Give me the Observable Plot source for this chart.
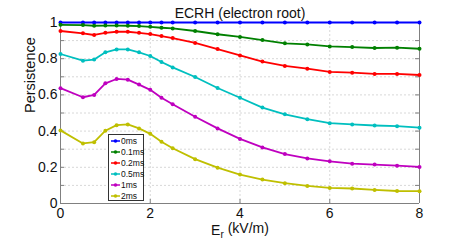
<!DOCTYPE html>
<html><head><meta charset="utf-8">
<script src="https://cdn.jsdelivr.net/npm/d3@7"></script>
<script src="https://cdn.jsdelivr.net/npm/@observablehq/plot@0.6"></script>
<style>
body{margin:0;background:#fff;font-family:"Liberation Sans",Arial,sans-serif}
#wrap{position:relative;width:463px;height:242px}
#legend{position:absolute;left:108px;top:134px;width:34px;height:65px;border:1px solid #333;background:#fff}
#legend .row{position:absolute;left:0;height:10px;display:flex;align-items:center;font-size:8.5px;color:#111;line-height:10px}
</style>
</head><body><div id="wrap"><div id="chart"></div><div id="legend"></div></div>
<script>
const er = [0, 0.5, 0.75, 1, 1.25, 1.5, 1.75, 2, 2.25, 2.5, 3, 3.5, 4, 4.5, 5, 5.5, 6, 6.5, 7, 7.5, 8];
const seriesNames = ["0ms", "0.1ms", "0.2ms", "0.5ms", "1ms", "2ms"];
const seriesColors = ["#0000ff", "#008000", "#ff0000", "#00bfbf", "#bf00bf", "#bfbf00"];
const p0ms  = [1, 1, 1, 1, 1, 1, 1, 1, 1, 1, 1, 1, 1, 1, 1, 1, 1, 1, 1, 1, 1];
const p01ms = [0.987, 0.986, 0.982, 0.983, 0.983, 0.982, 0.980, 0.976, 0.971, 0.967, 0.953, 0.935, 0.920, 0.903, 0.885, 0.879, 0.868, 0.864, 0.859, 0.861, 0.855];
const p02ms = [0.953, 0.940, 0.931, 0.943, 0.949, 0.949, 0.943, 0.936, 0.925, 0.914, 0.887, 0.853, 0.818, 0.784, 0.760, 0.745, 0.727, 0.723, 0.716, 0.716, 0.710];
const p05ms = [0.826, 0.789, 0.795, 0.835, 0.851, 0.851, 0.835, 0.815, 0.782, 0.752, 0.699, 0.638, 0.584, 0.530, 0.493, 0.466, 0.444, 0.437, 0.431, 0.427, 0.419];
const p1ms  = [0.637, 0.587, 0.600, 0.664, 0.688, 0.684, 0.657, 0.628, 0.584, 0.548, 0.479, 0.415, 0.357, 0.310, 0.273, 0.249, 0.233, 0.220, 0.215, 0.209, 0.202];
const p2ms  = [0.404, 0.332, 0.339, 0.402, 0.433, 0.437, 0.415, 0.385, 0.341, 0.305, 0.245, 0.198, 0.160, 0.132, 0.112, 0.097, 0.086, 0.083, 0.075, 0.069, 0.068];
const xTicks = [0, 2, 4, 6, 8];
const yTicks = [0, 0.2, 0.4, 0.6, 0.8, 1];
const yMinor = [0.1, 0.2, 0.3, 0.4, 0.5, 0.6, 0.7, 0.8, 0.9];
const xInner = [2, 4, 6];
const titleText = "ECRH (electron root)";
const yLabel = "Persistence";
const xLabel = "E r (kV/m)";

const allSeries = [p0ms, p01ms, p02ms, p05ms, p1ms, p2ms];
const rows = [];
allSeries.forEach((vals, i) => vals.forEach((v, j) => rows.push({series: seriesNames[i], er: er[j], p: v})));

const W = 463, H = 242;
const mL = 60, mR = 44, mT = 22, mB = 39;
const fw = W - mL - mR, fh = H - mT - mB;
const axisColor = "#808080";

const chart = Plot.plot({
  width: W, height: H,
  marginLeft: mL, marginRight: mR, marginTop: mT, marginBottom: mB,
  style: {fontFamily: "'Liberation Sans', Arial, sans-serif", background: "#fff", color: "#222"},
  x: {domain: [0, 8]},
  y: {domain: [0, 1]},
  color: {domain: seriesNames, range: seriesColors},
  marks: [
    Plot.gridY(yMinor, {stroke: "#d8d8d8", strokeOpacity: 1, strokeDasharray: "2,2"}),
    Plot.gridX(xInner, {stroke: "#d8d8d8", strokeOpacity: 1, strokeDasharray: "2,2"}),
    Plot.tickY(yMinor, {y: d => d, stroke: axisColor, insetRight: fw - 4}),
    Plot.tickY(yMinor, {y: d => d, stroke: axisColor, insetLeft: fw - 4}),
    Plot.tickX(xInner, {x: d => d, stroke: axisColor, insetTop: fh - 4}),
    Plot.ruleX([0, 8], {stroke: axisColor}),
    Plot.ruleY([0, 1], {stroke: axisColor}),
    Plot.axisX(xTicks, {tickSize: 0, tickPadding: 5, fontSize: 14, label: null, fill: "#111"}),
    Plot.axisY(yTicks, {tickSize: 0, tickPadding: 3, fontSize: 14, label: null, fill: "#111", tickFormat: d => String(+d.toFixed(1))}),
    Plot.line(rows, {x: "er", y: "p", z: "series", stroke: "series", strokeWidth: 1.8}),
    Plot.dot(rows, {x: "er", y: "p", fill: "series", r: 2}),
    Plot.text([titleText], {text: d => d, frameAnchor: "top", dy: -14, fontSize: 14, fill: "#111"}),
    Plot.text([yLabel], {text: d => d, frameAnchor: "left", dx: -30, rotate: -90, fontSize: 14.5, fill: "#111"}),
    Plot.text([xLabel], {text: d => d, frameAnchor: "bottom", dy: 31, fontSize: 14, fill: "#111", className: "xlab"})
  ]
});
document.getElementById("chart").appendChild(chart);

// subscript r in x label
d3.select(chart).selectAll(".xlab text").each(function () {
  const t = d3.select(this);
  t.text(null);
  t.append("tspan").text("E");
  t.append("tspan").attr("dy", "0.3em").attr("font-size", "10px").text("r");
  t.append("tspan").attr("dy", "-0.3em").text(" (kV/m)");
});

// legend
const lg = d3.select("#legend");
seriesNames.forEach((name, i) => {
  const row = lg.append("div").attr("class", "row").style("top", (1 + i * 11) + "px");
  const s = row.append("svg").attr("width", 11).attr("height", 10).style("margin-left", "1px");
  s.append("line").attr("x1", 1).attr("x2", 10).attr("y1", 5).attr("y2", 5).attr("stroke", seriesColors[i]).attr("stroke-width", 1.5);
  s.append("circle").attr("cx", 5.5).attr("cy", 5).attr("r", 1.8).attr("fill", seriesColors[i]);
  row.append("span").text(name);
});
</script>
</body></html>
